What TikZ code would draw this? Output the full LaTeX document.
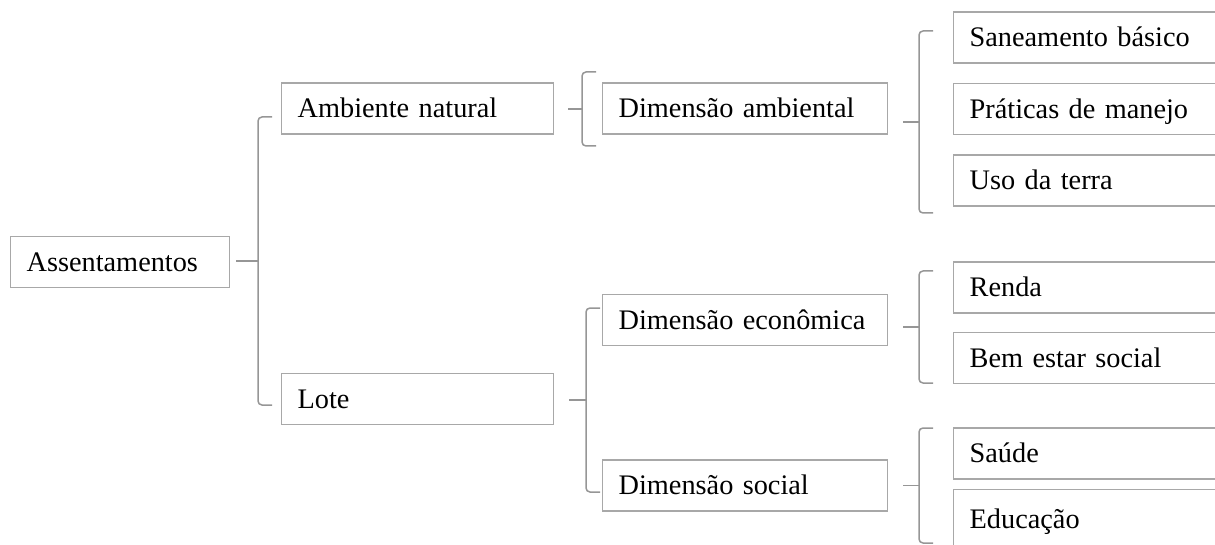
\documentclass[tikz,border=0pt]{standalone}
\usepackage{fontspec}
\setmainfont{Liberation Serif}
\definecolor{boxgray}{RGB}{168,168,168}
\definecolor{linegray}{RGB}{150,150,150}
\tikzset{
  box/.style={draw=boxgray, line width=1.3pt, anchor=west, align=left,
    minimum height=51pt, inner xsep=16pt, text height=18.6pt, text depth=0pt,
    font=\fontsize{28.3}{34}\selectfont},
  brace/.style={draw=linegray, line width=1.5pt, rounded corners=4pt}
}
\begin{document}
\begin{tikzpicture}[x=1pt,y=-1pt]
\path[use as bounding box] (0,0) rectangle (1215,545);
\clip (0,0) rectangle (1215,545);

\node[box, text width=187pt] (root) at (10,262) {Assentamentos};
\node[box, text width=240pt] (natural) at (281,108.5) {Ambiente natural};
\node[box, text width=240pt] (lote) at (281,399) {Lote};
\node[box, text width=253pt] (ambiental) at (602,108.5) {Dimensão ambiental};
\node[box, text width=253pt] (economica) at (602,320) {Dimensão econômica};
\node[box, text width=253pt] (social) at (602,485.5) {Dimensão social};
\node[box, text width=250pt] (saneamento) at (953,37.5) {Saneamento básico};
\node[box, text width=250pt] (manejo) at (953,109) {Práticas de manejo};
\node[box, text width=250pt] (terra) at (953,180.5) {Uso da terra};
\node[box, text width=250pt] (renda) at (953,287.5) {Renda};
\node[box, text width=250pt] (bemestar) at (953,358) {Bem estar social};
\node[box, text width=250pt] (saude) at (953,453.5) {Saúde};
\node[box, text width=250pt, minimum height=60pt] (educacao) at (953,519.5) {Educação};

% brackets: x, top, bottom, start of stub
\foreach \x/\t/\b/\s in {258/117/405/236, 582/72/146/568, 586/308/492/569,
                         919/31/213/903, 919/271/383/903, 919/428/543/903}
{
\draw[brace] (\x+14,\t) -- (\x,\t) -- (\x,\b) -- (\x+14,\b);
\draw[brace] (\s,{(\t+\b)/2}) -- (\x,{(\t+\b)/2});
}
\end{tikzpicture}
\end{document}
